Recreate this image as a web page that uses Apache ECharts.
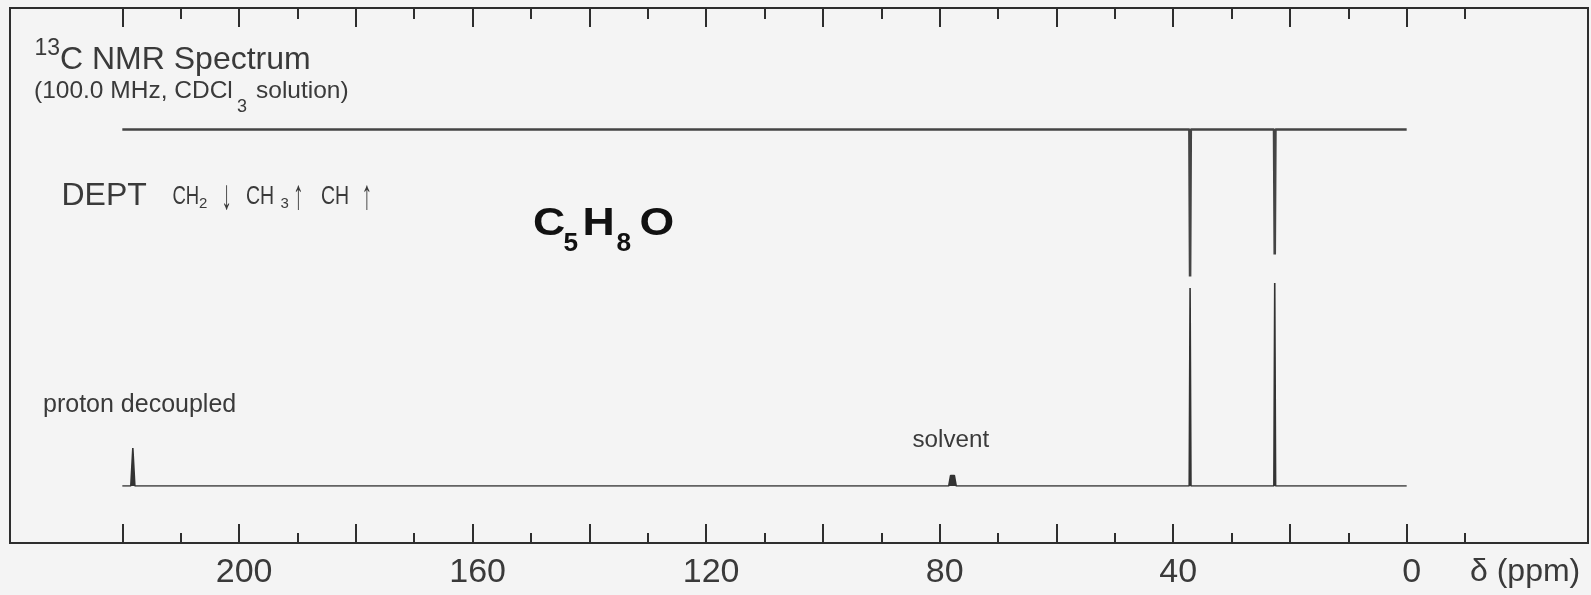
<!DOCTYPE html>
<html>
<head>
<meta charset="utf-8">
<script src="https://cdn.jsdelivr.net/npm/echarts@6/dist/echarts.min.js"></script>
<style>
  html, body { margin: 0; padding: 0; background: #f4f4f4; }
  #chart { width: 1591px; height: 595px; }
</style>
</head>
<body>
<div id="chart"></div>
<script>
// ---------------- data ----------------
const majorTicks = [220, 200, 180, 160, 140, 120, 100, 80, 60, 40, 20, 0];
const minorTicks = [210, 190, 170, 150, 130, 110, 90, 70, 50, 30, 10, -10];
const tickLabels = [200, 160, 120, 80, 40, 0];
const spectrumRange = [220, 0];            // ppm span of both traces

// proton decoupled spectrum (ppm, height, half line width)
const decoupledShifts  = [218.2, 78.12, 77.8, 77.48, 37.1, 22.6];
const decoupledHeights = [38, 10.5, 12, 10.5, 198, 203];
const decoupledHalfWidths = [0.35, 0.32, 0.32, 0.32, 0.15, 0.15];

// DEPT spectrum (CH2 negative)
const deptShifts  = [37.1, 22.6];
const deptHeights = [-147, -125];
const deptHalfWidths = [0.12, 0.12];

// ---------------- layout ----------------
const FONT = "'Liberation Sans', Arial, Helvetica, sans-serif";
const TXT = '#3a3a3a';
const LINE = '#2e2e2e';
const FRAME = { left: 10, right: 3, top: 8, bottom: 52 };
const X_MIN = -31.06, X_MAX = 239.24;

// stick spectrum drawn as sum of narrow triangular lines, evaluated at their breakpoints
function buildTrace(shifts, heights, hws) {
  const xs = [spectrumRange[0], spectrumRange[1]];
  shifts.forEach((s, i) => xs.push(s + hws[i], s, s - hws[i]));
  const uniq = Array.from(new Set(xs.map(v => +v.toFixed(4)))).sort((a, b) => b - a);
  return uniq.map(x => {
    let y = 0;
    shifts.forEach((s, i) => {
      const d = Math.abs(x - s);
      if (d < hws[i]) y += heights[i] * (1 - d / hws[i]);
    });
    return [x, y];
  });
}

const grids = [
  Object.assign({ show: true, borderColor: LINE, borderWidth: 2, backgroundColor: 'transparent' }, FRAME),
  Object.assign({}, FRAME),
  Object.assign({}, FRAME),
  Object.assign({}, FRAME),
  { left: FRAME.left, right: FRAME.right, top: 29.5, height: 300 },
  { left: FRAME.left, right: FRAME.right, top: 236, height: 250 }
];

function xAx(gi, extra) {
  return Object.assign({
    type: 'value', gridIndex: gi, min: X_MIN, max: X_MAX, inverse: true,
    splitLine: { show: false }, axisLine: { show: false, onZero: false },
    axisLabel: { show: false }, axisTick: { show: false }
  }, extra || {});
}
const tickStyle = { color: LINE, width: 2 };
const xAxes = [
  xAx(0, {
    position: 'bottom',
    axisTick: { show: true, inside: true, length: 19, customValues: majorTicks, lineStyle: tickStyle },
    axisLabel: { show: true, customValues: tickLabels, fontSize: 34, fontFamily: FONT, color: TXT,
                 margin: 13, padding: [0, 0, 0, 10] }
  }),
  xAx(1, { position: 'bottom',
    axisTick: { show: true, inside: true, length: 10, customValues: minorTicks, lineStyle: tickStyle } }),
  xAx(2, { position: 'top',
    axisTick: { show: true, inside: true, length: 19, customValues: majorTicks, lineStyle: tickStyle } }),
  xAx(3, { position: 'top',
    axisTick: { show: true, inside: true, length: 11, customValues: minorTicks, lineStyle: tickStyle } }),
  xAx(4), xAx(5)
];
function yAx(gi, min, max) {
  return { type: 'value', gridIndex: gi, min: min, max: max, show: false,
           axisLine: { onZero: false }, splitLine: { show: false } };
}
const yAxes = [yAx(0, 0, 1), yAx(1, 0, 1), yAx(2, 0, 1), yAx(3, 0, 1),
               yAx(4, -200, 100), yAx(5, 0, 250)];

// text helper: place by alphabetic baseline
function T(text, x, base, size, o) {
  o = o || {};
  const sy = o.scaleY || 1;
  return {
    type: 'text', x: x, y: base - 0.3465 * size * sy,
    scaleX: o.scaleX || 1, scaleY: sy, z: 10,
    style: {
      text: text, x: 0, y: 0,
      font: (o.weight || 'normal') + ' ' + size + 'px ' + (o.family || FONT),
      fill: o.color || TXT, align: o.align || 'left', verticalAlign: 'middle'
    }
  };
}
const ARROW = { align: 'center', scaleX: 0.5, weight: 'bold' };

const graphics = [
  T('13', 34.5, 57, 23),
  T('C NMR Spectrum', 60, 71, 32),
  T('(100.0 MHz, CDCl', 34, 100, 24.5),
  T('3', 237, 113, 18),
  T('solution)', 256, 100, 24.5),
  T('DEPT', 61.5, 207, 32),
  T('CH', 172.5, 206, 25, { scaleX: 0.74 }),
  T('2', 199, 209.5, 15),
  T('\u2193', 226.5, 212, 42, ARROW),
  T('CH', 246, 206, 25, { scaleX: 0.78 }),
  T('3', 280.5, 209.5, 15),
  T('\u2191', 298.3, 212, 42, ARROW),
  T('CH', 321, 206, 25, { scaleX: 0.78 }),
  T('\u2191', 366.7, 212, 42, ARROW),
  T('C', 533, 238, 39.5, { weight: 'bold', color: '#111', scaleX: 1.13 }),
  T('5', 563.5, 253, 25, { weight: 'bold', color: '#111', scaleX: 1.05 }),
  T('H', 582.5, 238, 39.5, { weight: 'bold', color: '#111', scaleX: 1.13 }),
  T('8', 616.5, 253, 25, { weight: 'bold', color: '#111', scaleX: 1.05 }),
  T('O', 639.5, 238, 39.5, { weight: 'bold', color: '#111', scaleX: 1.13 }),
  T('proton decoupled', 43, 413.3, 25),
  T('solvent', 912.5, 448.3, 24.2),
  T('\u03b4 (ppm)', 1470, 583.3, 32)
];

const chart = echarts.init(document.getElementById('chart'), null, { renderer: 'canvas' });
chart.setOption({
  backgroundColor: '#f4f4f4',
  animation: false,
  grid: grids,
  xAxis: xAxes,
  yAxis: yAxes,
  graphic: graphics,
  series: [
    {
      name: 'DEPT', type: 'line', xAxisIndex: 4, yAxisIndex: 4,
      data: buildTrace(deptShifts, deptHeights, deptHalfWidths),
      showSymbol: false, silent: true,
      lineStyle: { color: '#444', width: 2.6 },
      areaStyle: { color: '#444', opacity: 1 }
    },
    {
      name: 'proton decoupled', type: 'line', xAxisIndex: 5, yAxisIndex: 5,
      data: buildTrace(decoupledShifts, decoupledHeights, decoupledHalfWidths),
      showSymbol: false, silent: true,
      lineStyle: { color: '#333', width: 1.6 },
      areaStyle: { color: '#333', opacity: 1 }
    }
  ]
});
</script>
</body>
</html>
